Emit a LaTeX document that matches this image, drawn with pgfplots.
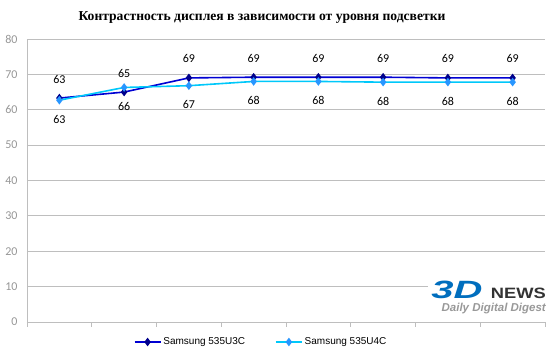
\documentclass[border=0pt]{standalone}
\usepackage{pgfplots}
\pgfplotsset{compat=1.18}
\usepackage{pgfplotstable}
\usepackage{fontspec}
\setmainfont{Carlito}
\newfontfamily\titlefont{Liberation Serif}
\newfontfamily\legfont{Liberation Sans}
\definecolor{dblue}{RGB}{0,0,210}
\definecolor{dmark}{RGB}{0,0,140}
\definecolor{cline}{RGB}{0,200,250}
\definecolor{cmark}{RGB}{40,150,255}
\definecolor{gridc}{RGB}{190,190,190}
\definecolor{tickc}{RGB}{150,150,150}
\definecolor{logob}{RGB}{0,110,190}
\pgfplotstableread{
x y lab
1 63.3 63
2 65.0 65
3 69.0 69
4 69.2 69
5 69.2 69
6 69.2 69
7 69.0 69
8 69.0 69
}\dataA
\pgfplotstableread{
x y lab
1 62.7 63
2 66.3 66
3 66.8 67
4 68.0 68
5 68.0 68
6 67.8 68
7 67.8 68
8 67.8 68
}\dataB
\begin{document}
\begin{tikzpicture}[x=1pt,y=1pt]
\path (0,0) rectangle (550,356);
\begin{axis}[
  at={(27pt,34pt)}, anchor=south west,
  scale only axis, width=518pt, height=283pt,
  xmin=0.5, xmax=8.5, ymin=0, ymax=80,
  xtick={0.5,1.5,...,8.5}, xticklabels={},
  ytick={0,10,...,80},
  axis x line*=bottom, axis y line*=left,
  axis line style={draw=gridc, line width=0.8pt, -},
  ymajorgrids, grid style={draw=gridc, line width=0.8pt},
  major tick length=5pt,
  x tick style={draw=gridc, line width=0.8pt},
  xtick pos=bottom, tick align=outside,
  y tick style={draw=none},
  yticklabel style={font=\fontsize{12}{12}\selectfont, text=tickc, xshift=-1pt},
  /pgf/number format/assume math mode=true,
  clip=false,
  nodes near coords={\pgfplotspointmeta},
  point meta=explicit symbolic,
  legend columns=2,
  legend style={at={(0.452,-0.0707)}, anchor=center, draw=none, fill=none,
    font=\legfont\fontsize{10}{10}\selectfont,
    /tikz/every even column/.append style={column sep=28pt}},
  legend image code/.code={
    \draw[#1, mark repeat=2, mark phase=2] plot coordinates {(0pt,0pt) (13pt,0pt) (26pt,0pt)};},
]
\addplot[dblue, line width=1.6pt, mark=diamond*, mark size=3pt, mark options={fill=dmark,draw=dmark},
  nodes near coords style={font=\fontsize{12}{12}\selectfont, text=black, anchor=center, yshift=19pt}]
  table[x=x,y=y,meta=lab]{\dataA};
\addlegendentry{Samsung 535U3C}
\addplot[cline, line width=1.6pt, mark=diamond*, mark size=3pt, mark options={fill=cmark,draw=cmark},
  nodes near coords style={font=\fontsize{12}{12}\selectfont, text=black, anchor=center, yshift=-19pt}]
  table[x=x,y=y,meta=lab]{\dataB};
\addlegendentry{Samsung 535U4C}
\end{axis}
\node[font=\titlefont\bfseries\fontsize{13.6}{13.6}\selectfont] at (262,338) {Контрастность дисплея в зависимости от уровня подсветки};
% logo
\fill[white] (428,40) rectangle (546,77);
\node[anchor=base west, inner sep=0pt, xscale=1.6, font=\legfont\bfseries\itshape\fontsize{25}{25}\selectfont, text=logob] at (431,57) {3D};
\node[anchor=base east, inner sep=0pt, xscale=1.22, font=\legfont\bfseries\fontsize{15}{15}\selectfont, text=black!80] at (546,57) {NEWS};
\node[anchor=base east, inner sep=0pt, font=\legfont\bfseries\itshape\fontsize{11.5}{11.5}\selectfont, text=black!40] at (546,44.5) {Daily Digital Digest};
\end{tikzpicture}
\end{document}
